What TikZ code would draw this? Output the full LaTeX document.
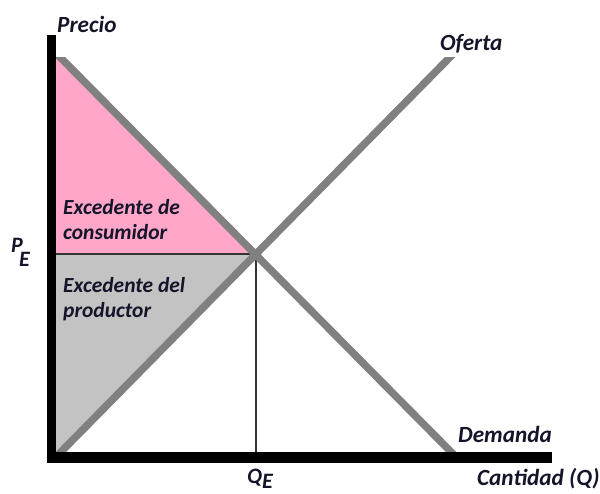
\documentclass[tikz,border=0pt]{standalone}
\usepackage{fontspec}
\setmainfont{Carlito}
\definecolor{pinkfill}{HTML}{FFA6C9}
\definecolor{grayfill}{HTML}{C3C3C3}
\definecolor{curvegray}{HTML}{808080}
\definecolor{txt}{HTML}{15152A}
\begin{document}
\begin{tikzpicture}[x=1pt,y=-1pt,
  lbl/.style={font=\bfseries\itshape\fontsize{23.2}{25}\selectfont, inner sep=0pt, anchor=base west, text=txt},
  inlbl/.style={lbl, font=\bfseries\itshape\fontsize{21.5}{24}\selectfont},
  sym/.style={lbl, font=\bfseries\itshape\fontsize{22}{24}\selectfont},
  curve/.style={draw=curvegray, line width=7.5pt},
  guide/.style={draw=black!80, line width=1.3pt}]
\useasboundingbox (0,0) rectangle (600,493);
% key points
\coordinate (top) at (56,57);
\coordinate (eq) at (255.5,254);
\coordinate (pe) at (56,254);
\coordinate (orig) at (56,453);
\coordinate (qe) at (256,453);
% surplus areas
\fill[pinkfill] (top) -- (eq) -- (pe) -- cycle;
\fill[grayfill] (pe) -- (eq) -- (orig) -- cycle;
% guide lines
\draw[guide] (pe) -- (eq);
\draw[guide] (256,254) -- (qe);
% curves
\coordinate (d1) at (50,47);
\coordinate (d2) at (462,463);
\coordinate (s1) at (50,463);
\coordinate (s2) at (460,47);
\begin{scope}
\clip (56,57) rectangle (600,453);
\draw[curve] (d1) -- (d2);
\draw[curve] (s1) -- (s2);
\end{scope}
% axes
\fill[black] (47,35) rectangle (56,463);
\fill[black] (47,452) rectangle (552,463);
% labels
\node[lbl] (precio) at (57,32) {Precio};
\node[lbl] (oferta) at (440,50) {Oferta};
\node[lbl] (demanda) at (458,442) {Demanda};
\node[lbl] (cantidad) at (477,485) {Cantidad (Q)};
\node[inlbl] (ec1) at (63,214) {Excedente de};
\node[inlbl] (ec2) at (63,239) {consumidor};
\node[inlbl] (ep1) at (63,292) {Excedente del};
\node[inlbl] (ep2) at (63,317) {productor};
\node[sym] (pesym) at (11,252) {P\kern-3.7pt\raisebox{-14pt}{E}};
\node[sym] (qesym) at (247,483) {Q\raisebox{-5pt}{E}};
\end{tikzpicture}
\end{document}
